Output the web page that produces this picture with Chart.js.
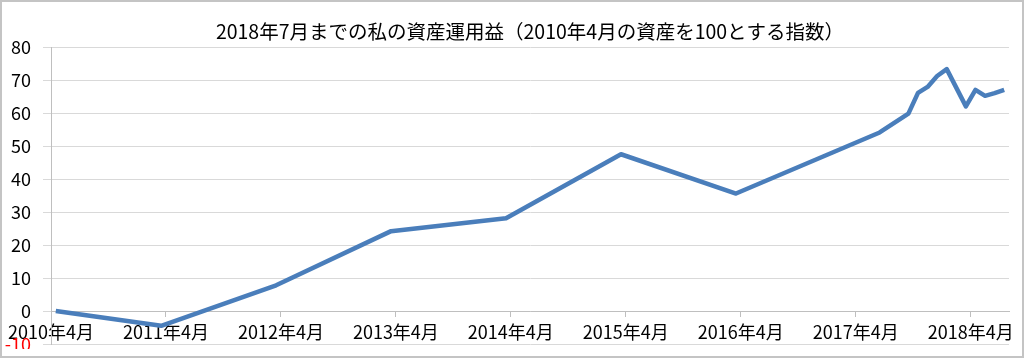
<!DOCTYPE html>
<html>
<head>
<meta charset="utf-8">
<script src="https://cdn.jsdelivr.net/npm/chart.js@4/dist/chart.umd.min.js"></script>
<style>
    body { margin: 0; background: #fff; }
    #frame {
        position: relative;
        width: 1024px;
        height: 358px;
        box-sizing: border-box;
        border: 2px solid #c4c4c4;
        background: #fff;
    }
    #wrap { position: absolute; left: 0; top: 0; width: 1020px; height: 347px; }
</style>
</head>
<body>
<div id="frame"><div id="wrap"><canvas id="myChart"></canvas></div></div>
<script>
const TITLE = '2018年7月までの私の資産運用益（2010年4月の資産を100とする指数）';

// months where the line has a vertex (year/month)
const dates = ['2010/4', '2011/3', '2012/3', '2013/3', '2014/3', '2015/3', '2016/3',
    '2017/6', '2017/9', '2017/10', '2017/11', '2017/12', '2018/1',
    '2018/3', '2018/4', '2018/5', '2018/6', '2018/7'];
// index, 2010/4 = 100 shown as 0
const values = [0, -4.5, 7.8, 24.2, 28.1, 47.5, 35.6,
    54.1, 59.8, 66.1, 67.9, 71.2, 73.3,
    62.0, 67.0, 65.2, 66.0, 67.0];

// x axis tick labels (every April)
const tickLabels = ['2010年4月', '2011年4月', '2012年4月', '2013年4月', '2014年4月',
    '2015年4月', '2016年4月', '2017年4月', '2018年4月'];

const yTicks = { min: -10, max: 80, step: 10 };
const FONT = '"Noto Sans CJK JP", "Noto Sans", sans-serif';

// months since 2010/4, centred in the month slot like excel's date axis
const monthPos = (d) => {
    const [y, m] = d.split('/').map(Number);
    return (y - 2010) * 12 + (m - 4) + 0.5;
};

const points = dates.map((d, i) => ({ x: monthPos(d), y: values[i] }));

const ctx = document.getElementById('myChart').getContext('2d');
const myChart = new Chart(ctx, {
    type: 'line',
    data: {
        datasets: [{
            data: points,
            borderColor: '#4a7ebb',
            borderWidth: 4.5,
            borderJoinStyle: 'round',
            pointRadius: 0,
            tension: 0,
            fill: false
        }]
    },
    options: {
        responsive: true,
        maintainAspectRatio: false,
        animation: false,
        layout: { padding: { left: 0, right: 13, top: 0, bottom: 5 } },
        plugins: {
            legend: { display: false },
            tooltip: { enabled: false },
            title: {
                display: true,
                text: TITLE,
                fullSize: false,
                color: '#000',
                font: { family: FONT, size: 19.5, weight: 'normal' },
                padding: { top: 18.3, bottom: 3.3 }
            }
        },
        scales: {
            x: {
                type: 'linear',
                position: { y: 0 },
                min: 0,
                max: 100,
                afterBuildTicks: (s) => {
                    s.ticks = tickLabels.map((_, i) => ({ value: i * 12 }));
                },
                ticks: {
                    autoSkip: false,
                    maxRotation: 0,
                    padding: 5,
                    color: '#000',
                    font: { family: FONT, size: 18 },
                    callback: (v) => tickLabels[Math.round(v / 12)]
                },
                grid: {
                    drawOnChartArea: false,
                    drawTicks: true,
                    tickLength: 5,
                    color: '#bfbfbf'
                },
                border: { display: true, color: '#bfbfbf', width: 1 }
            },
            y: {
                min: yTicks.min,
                max: yTicks.max,
                afterFit: (s) => {
                    s.width = 49;
                    s.paddingTop = 0;
                    s.paddingBottom = 0;
                },
                ticks: {
                    stepSize: yTicks.step,
                    padding: 12,
                    font: { family: FONT, size: 18 },
                    color: (c) => c.tick.value < 0 ? '#ff0000' : '#000'
                },
                grid: { color: '#d9d9d9', tickLength: 8 },
                border: { display: true, color: '#bfbfbf', width: 1 }
            }
        }
    }
});
</script>
</body>
</html>
